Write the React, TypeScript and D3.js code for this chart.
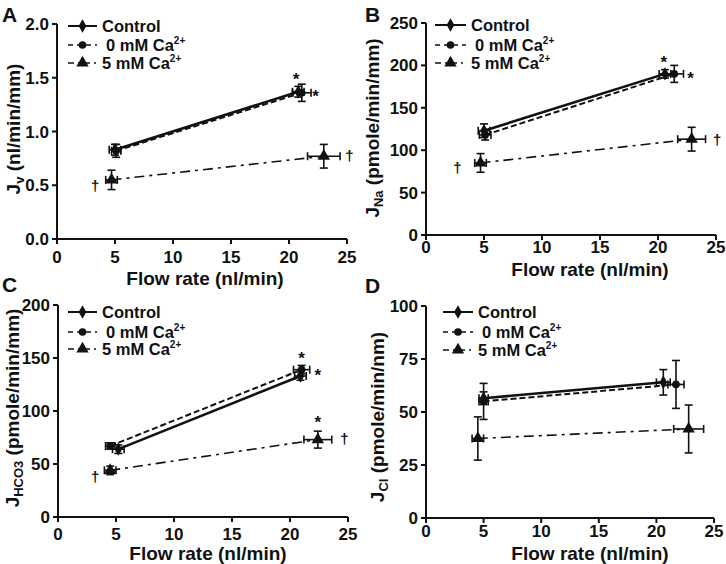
import React from "react";
import * as d3 from "d3";

const seriesLabels = ["Control", "0 mM Ca", "5 mM Ca"];
const flowTicks = [0, 5, 10, 15, 20, 25];

// A: Jv  (series order: control, 0 mM, 5 mM; two points each)
const jvFlow = [[5.0, 20.8], [5.1, 21.1], [4.7, 23.0]];
const jvFlowErr = [[0.5, 0.5], [0.4, 0.8], [0.5, 1.4]];
const jvValue = [[0.83, 1.37], [0.82, 1.36], [0.55, 0.77]];
const jvValueErr = [[0.05, 0.05], [0.06, 0.08], [0.09, 0.11]];
const jvTicks = [0, 0.5, 1.0, 1.5, 2.0];
const jvMarks = [["*", 20.6, 1.52], ["*", 22.3, 1.36], ["†", 3.3, 0.5], ["†", 25.2, 0.78]];

// B: JNa
const naFlow = [[5.0, 20.6], [5.1, 21.4], [4.7, 22.9]];
const naFlowErr = [[0.5, 0.5], [0.5, 0.8], [0.5, 1.2]];
const naValue = [[123, 190], [118, 190], [85, 113]];
const naValueErr = [[8, 5], [6, 10], [11, 14]];
const naTicks = [0, 50, 100, 150, 200, 250];
const naMarks = [["*", 20.5, 208], ["*", 22.8, 189], ["†", 2.7, 80], ["†", 25.1, 113]];

// C: JHCO3
const hco3Flow = [[5.2, 20.9], [4.5, 21.0], [4.5, 22.4]];
const hco3FlowErr = [[0.5, 0.5], [0.4, 0.7], [0.5, 1.2]];
const hco3Value = [[64, 133], [67, 139], [44, 73]];
const hco3ValueErr = [[4, 4], [3, 4], [4, 8]];
const hco3Ticks = [0, 50, 100, 150, 200];
const hco3Marks = [["*", 21.0, 153], ["*", 22.4, 137], ["*", 22.4, 92], ["†", 3.2, 39], ["†", 24.7, 75]];

// D: JCl
const clFlow = [[5.0, 20.6], [5.0, 21.7], [4.5, 22.8]];
const clFlowErr = [[0.4, 0.6], [0.4, 0.7], [0.5, 1.3]];
const clValue = [[56.5, 64], [55, 63], [37.5, 42]];
const clValueErr = [[3, 6], [8.5, 11.3], [10.2, 11.3]];
const clTicks = [0, 25, 50, 75, 100];
const clMarks: any[] = [];

const font = "'Liberation Sans', Arial, Helvetica, sans-serif";

const styles = [
  { dash: undefined, width: 2.6, symbol: d3.symbolDiamond, size: 52 },
  { dash: "6,3", width: 2, symbol: d3.symbolCircle, size: 46 },
  { dash: "10,5,3,5", width: 1.6, symbol: d3.symbolTriangle, size: 66 },
];

function Panel(props: any) {
  const { box, letter, letterPos, yTicks, yFmt, sub, unit, yTitlePos, xTitlePos, tickY,
    flow, flowErr, value, valueErr, marks, legend } = props;

  const x = d3.scaleLinear().domain([0, 25]).range([box.left, box.right]);
  const y = d3.scaleLinear().domain([yTicks[0], yTicks[yTicks.length - 1]]).range([box.bottom, box.top]);

  const cap = 4;
  const order = [2, 1, 0];

  return (
    <g fontFamily={font} fontWeight="bold" fill="#111">
      <text x={letterPos[0]} y={letterPos[1]} fontSize={21}>{letter}</text>

      {/* axes */}
      <line x1={x(0) - 5} x2={x(25)} y1={box.bottom} y2={box.bottom} stroke="#111" strokeWidth={2} />
      <line x1={x(0)} x2={x(0)} y1={box.top} y2={box.bottom} stroke="#111" strokeWidth={2} />
      {flowTicks.map((t) => (
        <g key={"xt" + t}>
          <line x1={x(t)} x2={x(t)} y1={box.bottom} y2={box.bottom + 5} stroke="#111" strokeWidth={2} />
          <text x={x(t)} y={tickY} fontSize={17} textAnchor="middle">{t}</text>
        </g>
      ))}
      {yTicks.map((t: number) => (
        <g key={"yt" + t}>
          <line x1={x(0) - 5} x2={x(0)} y1={y(t)} y2={y(t)} stroke="#111" strokeWidth={2} />
          <text x={x(0) - 8} y={y(t) + 6} fontSize={17} textAnchor="end">{yFmt(t)}</text>
        </g>
      ))}
      <text x={xTitlePos[0]} y={xTitlePos[1]} fontSize={19} textAnchor="middle">Flow rate (nl/min)</text>
      <text transform={`translate(${yTitlePos[0]},${yTitlePos[1]}) rotate(-90)`} fontSize={19} textAnchor="middle" dy={7}>
        J<tspan fontSize={13} dy={4}>{sub}</tspan><tspan dy={-4}> {unit}</tspan>
      </text>

      {/* connecting lines */}
      {order.map((s) => {
        const pts: [number, number][] = flow[s].map((f: number, i: number) => [x(f), y(value[s][i])]);
        return (
          <path key={"l" + s} d={d3.line()(pts) || ""} fill="none" stroke="#111"
            strokeWidth={styles[s].width} strokeDasharray={styles[s].dash} />
        );
      })}

      {/* error bars and markers */}
      {order.map((s) => (
        <g key={"p" + s}>
          {flow[s].map((f: number, i: number) => {
            const cx = x(f), cy = y(value[s][i]);
            const x0 = x(f - flowErr[s][i]), x1 = x(f + flowErr[s][i]);
            const y0 = y(value[s][i] - valueErr[s][i]), y1 = y(value[s][i] + valueErr[s][i]);
            return (
              <g key={i} stroke="#111" strokeWidth={1.6} fill="none">
                <line x1={x0} x2={x1} y1={cy} y2={cy} />
                <line x1={x0} x2={x0} y1={cy - cap} y2={cy + cap} />
                <line x1={x1} x2={x1} y1={cy - cap} y2={cy + cap} />
                <line x1={cx} x2={cx} y1={y0} y2={y1} />
                <line x1={cx - cap} x2={cx + cap} y1={y0} y2={y0} />
                <line x1={cx - cap} x2={cx + cap} y1={y1} y2={y1} />
                <path transform={`translate(${cx},${cy})`} d={d3.symbol(styles[s].symbol, styles[s].size)() || ""}
                  fill="#111" stroke="none" />
              </g>
            );
          })}
        </g>
      ))}

      {/* significance marks */}
      {marks.map((m: any, i: number) => (
        <text key={"m" + i} x={x(m[1])} y={y(m[2]) + (m[0] === "*" ? 9 : 6)} fontSize={m[0] === "*" ? 17 : 15}
          fontWeight="bold" textAnchor="middle">{m[0]}</text>
      ))}

      {/* legend */}
      {seriesLabels.map((lab, s) => {
        const ly = legend.rows[s];
        const mx = (legend.x0 + legend.x1) / 2;
        return (
          <g key={"lg" + s}>
            <line x1={legend.x0} x2={legend.x1} y1={ly} y2={ly} stroke="#111"
              strokeWidth={s === 0 ? 2 : 1.6} strokeDasharray={s === 1 ? "5,4" : s === 2 ? "6,4,2,4" : undefined} />
            <path transform={`translate(${mx},${ly})`} d={d3.symbol(styles[s].symbol, styles[s].size)() || ""} fill="#111" />
            <text x={legend.tx + (s === 1 ? 4 : 0)} y={ly + 6} fontSize={16.5}>
              {lab}
              {s > 0 ? <tspan fontSize={10} dy={-7}>2+</tspan> : null}
            </text>
          </g>
        );
      })}
    </g>
  );
}

export default function App() {
  const f1 = (v: number) => v.toFixed(1);
  const f0 = (v: number) => String(v);
  return (
    <svg width={726} height={564} style={{ display: "block", position: "absolute", left: 0, top: 0 }}>
      <rect width={726} height={564} fill="#fff" />
      <Panel box={{ left: 57, right: 347, top: 24, bottom: 239 }} letter="A" letterPos={[2, 22]}
        yTicks={jvTicks} yFmt={f1} sub="v" unit="(nl/min/mm)" yTitlePos={[13, 129]} xTitlePos={[205, 285]} tickY={263}
        flow={jvFlow} flowErr={jvFlowErr} value={jvValue} valueErr={jvValueErr} marks={jvMarks}
        legend={{ x0: 68, x1: 97, tx: 102, rows: [26, 45, 63] }} />
      <Panel box={{ left: 426, right: 716, top: 23, bottom: 235 }} letter="B" letterPos={[365, 22]}
        yTicks={naTicks} yFmt={f0} sub="Na" unit="(pmole/min/mm)" yTitlePos={[372, 128]} xTitlePos={[590, 276]} tickY={253}
        flow={naFlow} flowErr={naFlowErr} value={naValue} valueErr={naValueErr} marks={naMarks}
        legend={{ x0: 435, x1: 466, tx: 471, rows: [25, 45, 63] }} />
      <Panel box={{ left: 58, right: 348, top: 305, bottom: 517 }} letter="C" letterPos={[2, 292]}
        yTicks={hco3Ticks} yFmt={f0} sub="HCO3" unit="(pmole/min/mm)" yTitlePos={[12, 408]} xTitlePos={[208, 560]} tickY={540}
        flow={hco3Flow} flowErr={hco3FlowErr} value={hco3Value} valueErr={hco3ValueErr} marks={hco3Marks}
        legend={{ x0: 68, x1: 97, tx: 102, rows: [312, 332, 349] }} />
      <Panel box={{ left: 426, right: 714, top: 306, bottom: 518 }} letter="D" letterPos={[365, 293]}
        yTicks={clTicks} yFmt={f0} sub="Cl" unit="(pmole/min/nm)" yTitlePos={[377, 417]} xTitlePos={[590, 560]} tickY={537}
        flow={clFlow} flowErr={clFlowErr} value={clValue} valueErr={clValueErr} marks={clMarks}
        legend={{ x0: 443, x1: 473, tx: 478, rows: [312, 332, 350] }} />
    </svg>
  );
}
